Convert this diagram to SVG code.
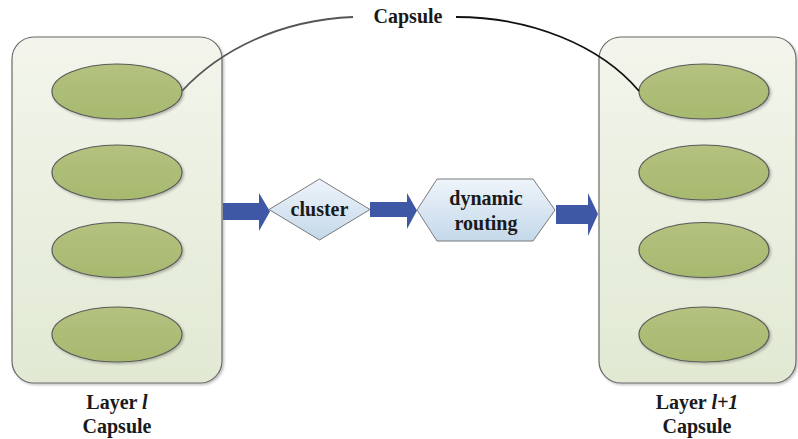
<svg xmlns="http://www.w3.org/2000/svg" width="798" height="439" viewBox="0 0 798 439">
<defs>
<linearGradient id="panelG" x1="0" y1="0" x2="0" y2="1">
<stop offset="0" stop-color="#f3f5ec"/>
<stop offset="1" stop-color="#e1e9d3"/>
</linearGradient>
<linearGradient id="ellG" x1="0" y1="0" x2="0" y2="1">
<stop offset="0" stop-color="#b3c27f"/>
<stop offset="1" stop-color="#a7b96f"/>
</linearGradient>
<linearGradient id="blueG" x1="0" y1="0" x2="0" y2="1">
<stop offset="0" stop-color="#eef4fa"/>
<stop offset="1" stop-color="#c4d8ea"/>
</linearGradient>
<filter id="sh" x="-10%" y="-10%" width="120%" height="120%">
<feDropShadow dx="1.5" dy="1.5" stdDeviation="1.2" flood-color="#000" flood-opacity="0.25"/>
</filter>
</defs>
<style>
.panel{fill:url(#panelG);stroke:#6b6b6b;stroke-width:1.2;filter:url(#sh)}
.cap{fill:url(#ellG);stroke:#5a5a5a;stroke-width:1.2;filter:url(#sh)}
.arrow{fill:#3f58a6}
.proc{fill:url(#blueG);stroke:#7a7a7a;stroke-width:1}
.t{font-weight:bold;font-size:20px;fill:#1a1a1a;text-anchor:middle}
.i{font-style:italic}
</style>
<rect width="798" height="439" fill="#ffffff"/>
<g id="layer-l">
<rect class="panel" x="12" y="37" width="210" height="346" rx="22"/>
<ellipse class="cap" cx="117" cy="91.5" rx="65" ry="27.5"/>
<ellipse class="cap" cx="117" cy="172.5" rx="65" ry="27.5"/>
<ellipse class="cap" cx="117" cy="250" rx="65" ry="27.5"/>
<ellipse class="cap" cx="117" cy="334.5" rx="65" ry="27.5"/>
<text class="t" x="117" y="409" font-family="Liberation Serif, serif">Layer <tspan class="i">l</tspan></text>
<text class="t" x="117" y="433" font-family="Liberation Serif, serif">Capsule</text>
</g>
<g id="layer-l1">
<rect class="panel" x="599" y="37" width="197" height="346" rx="22"/>
<ellipse class="cap" cx="704" cy="91.5" rx="65" ry="27.5"/>
<ellipse class="cap" cx="704" cy="172.5" rx="65" ry="27.5"/>
<ellipse class="cap" cx="704" cy="250" rx="65" ry="27.5"/>
<ellipse class="cap" cx="704" cy="334.5" rx="65" ry="27.5"/>
<text class="t" x="697" y="409" font-family="Liberation Serif, serif">Layer <tspan class="i">l+1</tspan></text>
<text class="t" x="697" y="433" font-family="Liberation Serif, serif">Capsule</text>
</g>
<g id="cluster">
<polygon class="proc" points="269,209.5 319.5,179 370,209.5 319.5,240"/>
<text class="t" x="319.5" y="216" font-family="Liberation Serif, serif">cluster</text>
</g>
<g id="dynamic-routing">
<polygon class="proc" points="417,210 437,179 533,179 555,210 533,241 437,241"/>
<text class="t" x="486" y="205" font-family="Liberation Serif, serif">dynamic</text>
<text class="t" x="486" y="230" font-family="Liberation Serif, serif">routing</text>
</g>
<g id="capsule-label">
<text class="t" x="408" y="23" font-family="Liberation Serif, serif">Capsule</text>
</g>
<g id="connectors">
<polygon class="arrow" points="223,203 259,203 259,193 270,211.5 259,231 259,220 223,220"/>
<polygon class="arrow" points="370,202 407,202 407,193 417,210.5 407,229 407,217 370,217"/>
<polygon class="arrow" points="556,205 588,205 588,193 598,214 588,236 588,224 556,224"/>
<path d="M182,91 C220,50 280,20 353,17" fill="none" stroke="#555" stroke-width="1.8"/>
<path d="M456,17 C530,17 600,45 639,91" fill="none" stroke="#111" stroke-width="1.8"/>
</g>
</svg>
